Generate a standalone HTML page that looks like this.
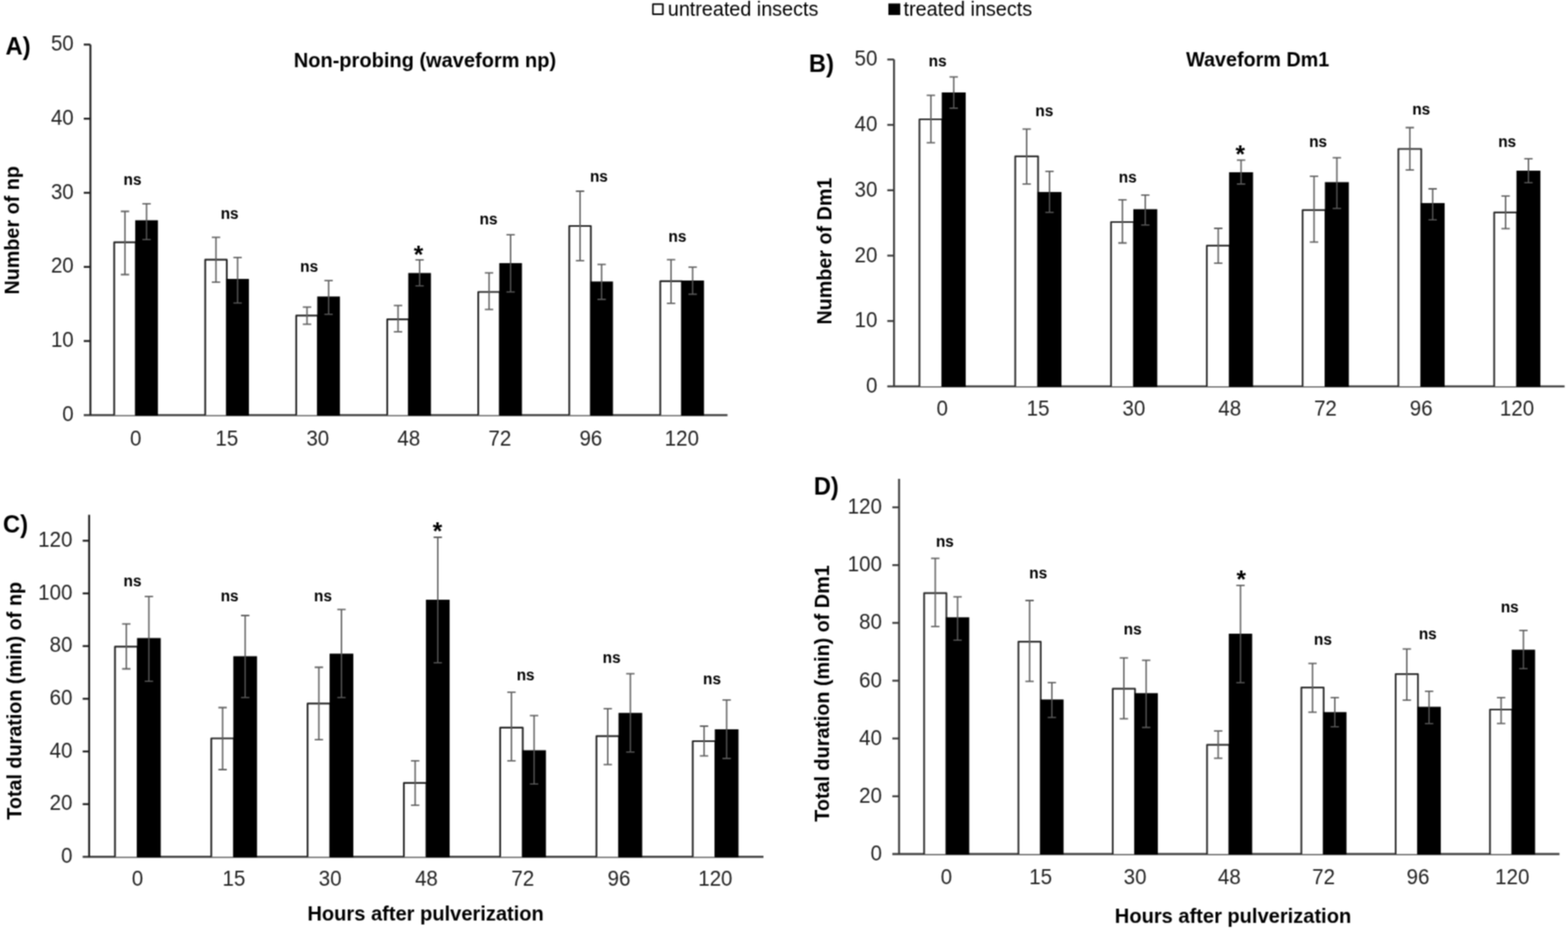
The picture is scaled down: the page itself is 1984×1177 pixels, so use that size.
<!DOCTYPE html>
<html><head><meta charset="utf-8"><title>EPG waveform bar charts</title>
<style>
html,body{margin:0;padding:0;background:#fff;}
body{width:1984px;height:1177px;overflow:hidden;}
svg{display:block;}
text{font-family:'Liberation Sans', Arial, sans-serif;}
.t{font-size:26px;fill:#232323;}
.ns{font-size:19.5px;font-weight:bold;fill:#000;}
.st{font-size:31px;font-weight:bold;fill:#000;}
.ti{font-size:25px;font-weight:bold;fill:#000;}
.le{font-size:30px;font-weight:bold;fill:#000;}
.lg{font-size:25px;fill:#000;}
</style></head>
<body>
<svg width="1984" height="1177" viewBox="0 0 1984 1177">
<defs><filter id="soft" x="0" y="0" width="1" height="1" color-interpolation-filters="sRGB"><feConvolveMatrix order="3" kernelMatrix="1 2 1 2 4 2 1 2 1" divisor="16" edgeMode="duplicate"/></filter></defs>
<g filter="url(#soft)">
<rect width="1984" height="1177" fill="#fff"/>
<g id="legend">
<rect x="826.2" y="5.3" width="12.5" height="12.8" fill="#fff" stroke="#000" stroke-width="2" stroke-linejoin="round"/>
<text x="845" y="19.6" class="lg">untreated insects</text>
<rect x="1124.1" y="4.4" width="15" height="14.6" fill="#000"/>
<text x="1143.3" y="19.6" class="lg">treated insects</text>
</g>
<g id="panelA"><path d="M106 525.4H920.5" stroke="#4c4c4c" stroke-width="2.6"/>
<rect x="144.5" y="306.6" width="27.3" height="218.8" fill="#fff"/>
<path d="M144.5 525.4V306.6H171.8V525.4" fill="none" stroke="#202020" stroke-width="2.2" stroke-linejoin="round"/>
<path d="M171.8 525.4V279.5H199.1V525.4Z" fill="#000" stroke="#000" stroke-width="1.4"/>
<rect x="259.66" y="328.7" width="27.3" height="196.7" fill="#fff"/>
<path d="M259.66 525.4V328.7H286.96V525.4" fill="none" stroke="#202020" stroke-width="2.2" stroke-linejoin="round"/>
<path d="M286.96 525.4V353.8H314.26V525.4Z" fill="#000" stroke="#000" stroke-width="1.4"/>
<rect x="374.82" y="399.4" width="27.3" height="126" fill="#fff"/>
<path d="M374.82 525.4V399.4H402.12V525.4" fill="none" stroke="#202020" stroke-width="2.2" stroke-linejoin="round"/>
<path d="M402.12 525.4V376H429.42V525.4Z" fill="#000" stroke="#000" stroke-width="1.4"/>
<rect x="489.98" y="404.2" width="27.3" height="121.2" fill="#fff"/>
<path d="M489.98 525.4V404.2H517.28V525.4" fill="none" stroke="#202020" stroke-width="2.2" stroke-linejoin="round"/>
<path d="M517.28 525.4V346.1H544.58V525.4Z" fill="#000" stroke="#000" stroke-width="1.4"/>
<rect x="605.14" y="369.5" width="27.3" height="155.9" fill="#fff"/>
<path d="M605.14 525.4V369.5H632.44V525.4" fill="none" stroke="#202020" stroke-width="2.2" stroke-linejoin="round"/>
<path d="M632.44 525.4V333.6H659.74V525.4Z" fill="#000" stroke="#000" stroke-width="1.4"/>
<rect x="720.3" y="286" width="27.3" height="239.4" fill="#fff"/>
<path d="M720.3 525.4V286H747.6V525.4" fill="none" stroke="#202020" stroke-width="2.2" stroke-linejoin="round"/>
<path d="M747.6 525.4V357H774.9V525.4Z" fill="#000" stroke="#000" stroke-width="1.4"/>
<rect x="835.46" y="355.9" width="27.3" height="169.5" fill="#fff"/>
<path d="M835.46 525.4V355.9H862.76V525.4" fill="none" stroke="#202020" stroke-width="2.2" stroke-linejoin="round"/>
<path d="M862.76 525.4V355.6H890.06V525.4Z" fill="#000" stroke="#000" stroke-width="1.4"/>
<path d="M158.15 267.5V347.5M152.85 267.5H163.45M152.85 347.5H163.45" stroke="#5f5f5f" stroke-width="1.8" fill="none"/>
<path d="M185.45 257.8V279.5M180.15 257.8H190.75" stroke="#5f5f5f" stroke-width="1.8" fill="none"/>
<path d="M185.45 279.5V303.3M180.15 303.3H190.75" stroke="#5c5c5c" stroke-width="1.6" fill="none"/>
<path d="M273.31 300.3V357.2M268.01 300.3H278.61M268.01 357.2H278.61" stroke="#5f5f5f" stroke-width="1.8" fill="none"/>
<path d="M300.61 325.8V353.8M295.31 325.8H305.91" stroke="#5f5f5f" stroke-width="1.8" fill="none"/>
<path d="M300.61 353.8V383.5M295.31 383.5H305.91" stroke="#5c5c5c" stroke-width="1.6" fill="none"/>
<path d="M388.47 388.7V410.4M383.17 388.7H393.77M383.17 410.4H393.77" stroke="#5f5f5f" stroke-width="1.8" fill="none"/>
<path d="M415.77 355.2V376M410.47 355.2H421.07" stroke="#5f5f5f" stroke-width="1.8" fill="none"/>
<path d="M415.77 376V397.8M410.47 397.8H421.07" stroke="#5c5c5c" stroke-width="1.6" fill="none"/>
<path d="M503.63 386.7V419.9M498.33 386.7H508.93M498.33 419.9H508.93" stroke="#5f5f5f" stroke-width="1.8" fill="none"/>
<path d="M530.93 328.9V346.1M525.63 328.9H536.23" stroke="#5f5f5f" stroke-width="1.8" fill="none"/>
<path d="M530.93 346.1V361.8M525.63 361.8H536.23" stroke="#5c5c5c" stroke-width="1.6" fill="none"/>
<path d="M618.79 345.4V391.6M613.49 345.4H624.09M613.49 391.6H624.09" stroke="#5f5f5f" stroke-width="1.8" fill="none"/>
<path d="M646.09 297.2V333.6M640.79 297.2H651.39" stroke="#5f5f5f" stroke-width="1.8" fill="none"/>
<path d="M646.09 333.6V369.5M640.79 369.5H651.39" stroke="#5c5c5c" stroke-width="1.6" fill="none"/>
<path d="M733.95 242V329.9M728.65 242H739.25M728.65 329.9H739.25" stroke="#5f5f5f" stroke-width="1.8" fill="none"/>
<path d="M761.25 334.6V357M755.95 334.6H766.55" stroke="#5f5f5f" stroke-width="1.8" fill="none"/>
<path d="M761.25 357V378.9M755.95 378.9H766.55" stroke="#5c5c5c" stroke-width="1.6" fill="none"/>
<path d="M849.11 328.7V383.8M843.81 328.7H854.41M843.81 383.8H854.41" stroke="#5f5f5f" stroke-width="1.8" fill="none"/>
<path d="M876.41 338.1V355.6M871.11 338.1H881.71" stroke="#5f5f5f" stroke-width="1.8" fill="none"/>
<path d="M876.41 355.6V372.4M871.11 372.4H881.71" stroke="#5c5c5c" stroke-width="1.6" fill="none"/>
<path d="M114.4 56.4V525.4" stroke="#1e1e1e" stroke-width="2.4"/>
<path d="M106 431.6H114.4" stroke="#1e1e1e" stroke-width="2.4"/>
<path d="M106 337.8H114.4" stroke="#1e1e1e" stroke-width="2.4"/>
<path d="M106 244H114.4" stroke="#1e1e1e" stroke-width="2.4"/>
<path d="M106 150.2H114.4" stroke="#1e1e1e" stroke-width="2.4"/>
<path d="M106 56.4H114.4" stroke="#1e1e1e" stroke-width="2.4"/>
<text transform="translate(93.3 533.05) scale(1 1.04)" text-anchor="end" class="t">0</text>
<text transform="translate(93.3 439.25) scale(1 1.04)" text-anchor="end" class="t">10</text>
<text transform="translate(93.3 345.45) scale(1 1.04)" text-anchor="end" class="t">20</text>
<text transform="translate(93.3 251.65) scale(1 1.04)" text-anchor="end" class="t">30</text>
<text transform="translate(93.3 157.85) scale(1 1.04)" text-anchor="end" class="t">40</text>
<text transform="translate(93.3 64.05) scale(1 1.04)" text-anchor="end" class="t">50</text>
<text transform="translate(171.8 564) scale(1 1.04)" text-anchor="middle" class="t">0</text>
<text transform="translate(286.96 564) scale(1 1.04)" text-anchor="middle" class="t">15</text>
<text transform="translate(402.12 564) scale(1 1.04)" text-anchor="middle" class="t">30</text>
<text transform="translate(517.28 564) scale(1 1.04)" text-anchor="middle" class="t">48</text>
<text transform="translate(632.44 564) scale(1 1.04)" text-anchor="middle" class="t">72</text>
<text transform="translate(747.6 564) scale(1 1.04)" text-anchor="middle" class="t">96</text>
<text transform="translate(862.76 564) scale(1 1.04)" text-anchor="middle" class="t">120</text>
<text x="167.75" y="233.5" text-anchor="middle" class="ns">ns</text>
<text x="290.6" y="277.3" text-anchor="middle" class="ns">ns</text>
<text x="391.25" y="343.5" text-anchor="middle" class="ns">ns</text>
<text x="529.55" y="333.3" text-anchor="middle" class="st">*</text>
<text x="618.15" y="283.6" text-anchor="middle" class="ns">ns</text>
<text x="757.8" y="230.3" text-anchor="middle" class="ns">ns</text>
<text x="857.2" y="306" text-anchor="middle" class="ns">ns</text>
<text x="371.7" y="84.9" class="ti" style="font-size:25.33px">Non-probing (waveform np)</text>
<text transform="translate(24.2 291.5) rotate(-90)" x="0" y="0" text-anchor="middle" class="ti">Number of np</text>
<text transform="translate(7 69.3) scale(1 1.03)" class="le">A)</text></g>
<g id="panelB"><path d="M1122.7 489H1979.7" stroke="#3e3e3e" stroke-width="2.6"/>
<rect x="1163.4" y="151" width="28.9" height="338" fill="#fff"/>
<path d="M1163.4 489V151H1192.3V489" fill="none" stroke="#2a2a2a" stroke-width="2.2" stroke-linejoin="round"/>
<path d="M1192.3 489V117.8H1221.2V489Z" fill="#000" stroke="#000" stroke-width="1.4"/>
<rect x="1284.6" y="197.8" width="28.9" height="291.2" fill="#fff"/>
<path d="M1284.6 489V197.8H1313.5V489" fill="none" stroke="#2a2a2a" stroke-width="2.2" stroke-linejoin="round"/>
<path d="M1313.5 489V243.6H1342.4V489Z" fill="#000" stroke="#000" stroke-width="1.4"/>
<rect x="1405.8" y="281" width="28.9" height="208" fill="#fff"/>
<path d="M1405.8 489V281H1434.7V489" fill="none" stroke="#2a2a2a" stroke-width="2.2" stroke-linejoin="round"/>
<path d="M1434.7 489V265.5H1463.6V489Z" fill="#000" stroke="#000" stroke-width="1.4"/>
<rect x="1527" y="310.9" width="28.9" height="178.1" fill="#fff"/>
<path d="M1527 489V310.9H1555.9V489" fill="none" stroke="#2a2a2a" stroke-width="2.2" stroke-linejoin="round"/>
<path d="M1555.9 489V218.8H1584.8V489Z" fill="#000" stroke="#000" stroke-width="1.4"/>
<rect x="1648.2" y="265.9" width="28.9" height="223.1" fill="#fff"/>
<path d="M1648.2 489V265.9H1677.1V489" fill="none" stroke="#2a2a2a" stroke-width="2.2" stroke-linejoin="round"/>
<path d="M1677.1 489V231.2H1706V489Z" fill="#000" stroke="#000" stroke-width="1.4"/>
<rect x="1769.4" y="188.5" width="28.9" height="300.5" fill="#fff"/>
<path d="M1769.4 489V188.5H1798.3V489" fill="none" stroke="#2a2a2a" stroke-width="2.2" stroke-linejoin="round"/>
<path d="M1798.3 489V257.7H1827.2V489Z" fill="#000" stroke="#000" stroke-width="1.4"/>
<rect x="1890.6" y="268.9" width="28.9" height="220.1" fill="#fff"/>
<path d="M1890.6 489V268.9H1919.5V489" fill="none" stroke="#2a2a2a" stroke-width="2.2" stroke-linejoin="round"/>
<path d="M1919.5 489V216.7H1948.4V489Z" fill="#000" stroke="#000" stroke-width="1.4"/>
<path d="M1177.85 120.7V180.7M1172.55 120.7H1183.15M1172.55 180.7H1183.15" stroke="#5f5f5f" stroke-width="1.8" fill="none"/>
<path d="M1206.75 97.4V117.8M1201.45 97.4H1212.05" stroke="#5f5f5f" stroke-width="1.8" fill="none"/>
<path d="M1206.75 117.8V136.9M1201.45 136.9H1212.05" stroke="#5c5c5c" stroke-width="1.6" fill="none"/>
<path d="M1299.05 163.3V232.8M1293.75 163.3H1304.35M1293.75 232.8H1304.35" stroke="#5f5f5f" stroke-width="1.8" fill="none"/>
<path d="M1327.95 216.9V243.6M1322.65 216.9H1333.25" stroke="#5f5f5f" stroke-width="1.8" fill="none"/>
<path d="M1327.95 243.6V268.8M1322.65 268.8H1333.25" stroke="#5c5c5c" stroke-width="1.6" fill="none"/>
<path d="M1420.25 252.9V307.5M1414.95 252.9H1425.55M1414.95 307.5H1425.55" stroke="#5f5f5f" stroke-width="1.8" fill="none"/>
<path d="M1449.15 246.8V265.5M1443.85 246.8H1454.45" stroke="#5f5f5f" stroke-width="1.8" fill="none"/>
<path d="M1449.15 265.5V284.7M1443.85 284.7H1454.45" stroke="#5c5c5c" stroke-width="1.6" fill="none"/>
<path d="M1541.45 289V333.1M1536.15 289H1546.75M1536.15 333.1H1546.75" stroke="#5f5f5f" stroke-width="1.8" fill="none"/>
<path d="M1570.35 202.7V218.8M1565.05 202.7H1575.65" stroke="#5f5f5f" stroke-width="1.8" fill="none"/>
<path d="M1570.35 218.8V232.9M1565.05 232.9H1575.65" stroke="#5c5c5c" stroke-width="1.6" fill="none"/>
<path d="M1662.65 223.1V306.3M1657.35 223.1H1667.95M1657.35 306.3H1667.95" stroke="#5f5f5f" stroke-width="1.8" fill="none"/>
<path d="M1691.55 199.6V231.2M1686.25 199.6H1696.85" stroke="#5f5f5f" stroke-width="1.8" fill="none"/>
<path d="M1691.55 231.2V263.8M1686.25 263.8H1696.85" stroke="#5c5c5c" stroke-width="1.6" fill="none"/>
<path d="M1783.85 161.5V215.2M1778.55 161.5H1789.15M1778.55 215.2H1789.15" stroke="#5f5f5f" stroke-width="1.8" fill="none"/>
<path d="M1812.75 239V257.7M1807.45 239H1818.05" stroke="#5f5f5f" stroke-width="1.8" fill="none"/>
<path d="M1812.75 257.7V278.3M1807.45 278.3H1818.05" stroke="#5c5c5c" stroke-width="1.6" fill="none"/>
<path d="M1905.05 248.1V289.3M1899.75 248.1H1910.35M1899.75 289.3H1910.35" stroke="#5f5f5f" stroke-width="1.8" fill="none"/>
<path d="M1933.95 200.9V216.7M1928.65 200.9H1939.25" stroke="#5f5f5f" stroke-width="1.8" fill="none"/>
<path d="M1933.95 216.7V231.3M1928.65 231.3H1939.25" stroke="#5c5c5c" stroke-width="1.6" fill="none"/>
<path d="M1131.2 75.3V489" stroke="#3a3a3a" stroke-width="2.4"/>
<path d="M1122.7 406.26H1131.2" stroke="#3a3a3a" stroke-width="2.4"/>
<path d="M1122.7 323.52H1131.2" stroke="#3a3a3a" stroke-width="2.4"/>
<path d="M1122.7 240.78H1131.2" stroke="#3a3a3a" stroke-width="2.4"/>
<path d="M1122.7 158.04H1131.2" stroke="#3a3a3a" stroke-width="2.4"/>
<path d="M1122.7 75.3H1131.2" stroke="#3a3a3a" stroke-width="2.4"/>
<text transform="translate(1110.2 497.15) scale(1 1.04)" text-anchor="end" class="t">0</text>
<text transform="translate(1110.2 414.41) scale(1 1.04)" text-anchor="end" class="t">10</text>
<text transform="translate(1110.2 331.67) scale(1 1.04)" text-anchor="end" class="t">20</text>
<text transform="translate(1110.2 248.93) scale(1 1.04)" text-anchor="end" class="t">30</text>
<text transform="translate(1110.2 166.19) scale(1 1.04)" text-anchor="end" class="t">40</text>
<text transform="translate(1110.2 83.45) scale(1 1.04)" text-anchor="end" class="t">50</text>
<text transform="translate(1192.3 526) scale(1 1.04)" text-anchor="middle" class="t">0</text>
<text transform="translate(1313.5 526) scale(1 1.04)" text-anchor="middle" class="t">15</text>
<text transform="translate(1434.7 526) scale(1 1.04)" text-anchor="middle" class="t">30</text>
<text transform="translate(1555.9 526) scale(1 1.04)" text-anchor="middle" class="t">48</text>
<text transform="translate(1677.1 526) scale(1 1.04)" text-anchor="middle" class="t">72</text>
<text transform="translate(1798.3 526) scale(1 1.04)" text-anchor="middle" class="t">96</text>
<text transform="translate(1919.5 526) scale(1 1.04)" text-anchor="middle" class="t">120</text>
<text x="1186.4" y="83.8" text-anchor="middle" class="ns">ns</text>
<text x="1321.4" y="146.5" text-anchor="middle" class="ns">ns</text>
<text x="1426.95" y="230.5" text-anchor="middle" class="ns">ns</text>
<text x="1569.3" y="205.5" text-anchor="middle" class="st">*</text>
<text x="1667.85" y="186.2" text-anchor="middle" class="ns">ns</text>
<text x="1798.3" y="145.4" text-anchor="middle" class="ns">ns</text>
<text x="1907.1" y="186" text-anchor="middle" class="ns">ns</text>
<text x="1500.8" y="84" class="ti" style="font-size:25px">Waveform Dm1</text>
<text transform="translate(1052.3 317.8) rotate(-90)" x="0" y="0" text-anchor="middle" class="ti">Number of Dm1</text>
<text transform="translate(1023.5 90.5) scale(1 1.03)" class="le">B)</text></g>
<g id="panelC"><path d="M104.6 1084.4H966" stroke="#464646" stroke-width="2.6"/>
<rect x="145.5" y="818.3" width="28.6" height="266.1" fill="#fff"/>
<path d="M145.5 1084.4V818.3H174.1V1084.4" fill="none" stroke="#202020" stroke-width="2.2" stroke-linejoin="round"/>
<path d="M174.1 1084.4V808.3H202.7V1084.4Z" fill="#000" stroke="#000" stroke-width="1.4"/>
<rect x="267.34" y="934.5" width="28.6" height="149.9" fill="#fff"/>
<path d="M267.34 1084.4V934.5H295.94V1084.4" fill="none" stroke="#202020" stroke-width="2.2" stroke-linejoin="round"/>
<path d="M295.94 1084.4V831.2H324.54V1084.4Z" fill="#000" stroke="#000" stroke-width="1.4"/>
<rect x="389.18" y="890.4" width="28.6" height="194" fill="#fff"/>
<path d="M389.18 1084.4V890.4H417.78V1084.4" fill="none" stroke="#202020" stroke-width="2.2" stroke-linejoin="round"/>
<path d="M417.78 1084.4V827.9H446.38V1084.4Z" fill="#000" stroke="#000" stroke-width="1.4"/>
<rect x="511.02" y="990.8" width="28.6" height="93.6" fill="#fff"/>
<path d="M511.02 1084.4V990.8H539.62V1084.4" fill="none" stroke="#202020" stroke-width="2.2" stroke-linejoin="round"/>
<path d="M539.62 1084.4V759.6H568.22V1084.4Z" fill="#000" stroke="#000" stroke-width="1.4"/>
<rect x="632.86" y="920.9" width="28.6" height="163.5" fill="#fff"/>
<path d="M632.86 1084.4V920.9H661.46V1084.4" fill="none" stroke="#202020" stroke-width="2.2" stroke-linejoin="round"/>
<path d="M661.46 1084.4V950.3H690.06V1084.4Z" fill="#000" stroke="#000" stroke-width="1.4"/>
<rect x="754.7" y="931.6" width="28.6" height="152.8" fill="#fff"/>
<path d="M754.7 1084.4V931.6H783.3V1084.4" fill="none" stroke="#202020" stroke-width="2.2" stroke-linejoin="round"/>
<path d="M783.3 1084.4V903H811.9V1084.4Z" fill="#000" stroke="#000" stroke-width="1.4"/>
<rect x="876.54" y="938" width="28.6" height="146.4" fill="#fff"/>
<path d="M876.54 1084.4V938H905.14V1084.4" fill="none" stroke="#202020" stroke-width="2.2" stroke-linejoin="round"/>
<path d="M905.14 1084.4V923.7H933.74V1084.4Z" fill="#000" stroke="#000" stroke-width="1.4"/>
<path d="M159.8 789.7V846.5M154.5 789.7H165.1M154.5 846.5H165.1" stroke="#5f5f5f" stroke-width="1.8" fill="none"/>
<path d="M188.4 754.8V808.3M183.1 754.8H193.7" stroke="#5f5f5f" stroke-width="1.8" fill="none"/>
<path d="M188.4 808.3V862.3M183.1 862.3H193.7" stroke="#5c5c5c" stroke-width="1.6" fill="none"/>
<path d="M281.64 895.5V974M276.34 895.5H286.94M276.34 974H286.94" stroke="#5f5f5f" stroke-width="1.8" fill="none"/>
<path d="M310.24 779V831.2M304.94 779H315.54" stroke="#5f5f5f" stroke-width="1.8" fill="none"/>
<path d="M310.24 831.2V882.7M304.94 882.7H315.54" stroke="#5c5c5c" stroke-width="1.6" fill="none"/>
<path d="M403.48 844.5V936.2M398.18 844.5H408.78M398.18 936.2H408.78" stroke="#5f5f5f" stroke-width="1.8" fill="none"/>
<path d="M432.08 771.4V827.9M426.78 771.4H437.38" stroke="#5f5f5f" stroke-width="1.8" fill="none"/>
<path d="M432.08 827.9V882.7M426.78 882.7H437.38" stroke="#5c5c5c" stroke-width="1.6" fill="none"/>
<path d="M525.32 962.9V1019.1M520.02 962.9H530.62M520.02 1019.1H530.62" stroke="#5f5f5f" stroke-width="1.8" fill="none"/>
<path d="M553.92 680V759.6M548.62 680H559.22" stroke="#5f5f5f" stroke-width="1.8" fill="none"/>
<path d="M553.92 759.6V838.7M548.62 838.7H559.22" stroke="#5c5c5c" stroke-width="1.6" fill="none"/>
<path d="M647.16 876.2V962.9M641.86 876.2H652.46M641.86 962.9H652.46" stroke="#5f5f5f" stroke-width="1.8" fill="none"/>
<path d="M675.76 905.6V950.3M670.46 905.6H681.06" stroke="#5f5f5f" stroke-width="1.8" fill="none"/>
<path d="M675.76 950.3V992.3M670.46 992.3H681.06" stroke="#5c5c5c" stroke-width="1.6" fill="none"/>
<path d="M769 896.9V967.6M763.7 896.9H774.3M763.7 967.6H774.3" stroke="#5f5f5f" stroke-width="1.8" fill="none"/>
<path d="M797.6 852.7V903M792.3 852.7H802.9" stroke="#5f5f5f" stroke-width="1.8" fill="none"/>
<path d="M797.6 903V951.7M792.3 951.7H802.9" stroke="#5c5c5c" stroke-width="1.6" fill="none"/>
<path d="M890.84 919V956.6M885.54 919H896.14M885.54 956.6H896.14" stroke="#5f5f5f" stroke-width="1.8" fill="none"/>
<path d="M919.44 885.9V923.7M914.14 885.9H924.74" stroke="#5f5f5f" stroke-width="1.8" fill="none"/>
<path d="M919.44 923.7V959.9M914.14 959.9H924.74" stroke="#5c5c5c" stroke-width="1.6" fill="none"/>
<path d="M112.8 651.6V1084.4" stroke="#1e1e1e" stroke-width="2.4"/>
<path d="M104.6 1017.72H112.8" stroke="#1e1e1e" stroke-width="2.4"/>
<path d="M104.6 951.04H112.8" stroke="#1e1e1e" stroke-width="2.4"/>
<path d="M104.6 884.36H112.8" stroke="#1e1e1e" stroke-width="2.4"/>
<path d="M104.6 817.68H112.8" stroke="#1e1e1e" stroke-width="2.4"/>
<path d="M104.6 751H112.8" stroke="#1e1e1e" stroke-width="2.4"/>
<path d="M104.6 684.32H112.8" stroke="#1e1e1e" stroke-width="2.4"/>
<text transform="translate(91.6 1092.05) scale(1 1.04)" text-anchor="end" class="t">0</text>
<text transform="translate(91.6 1025.37) scale(1 1.04)" text-anchor="end" class="t">20</text>
<text transform="translate(91.6 958.69) scale(1 1.04)" text-anchor="end" class="t">40</text>
<text transform="translate(91.6 892.01) scale(1 1.04)" text-anchor="end" class="t">60</text>
<text transform="translate(91.6 825.33) scale(1 1.04)" text-anchor="end" class="t">80</text>
<text transform="translate(91.6 758.65) scale(1 1.04)" text-anchor="end" class="t">100</text>
<text transform="translate(91.6 691.97) scale(1 1.04)" text-anchor="end" class="t">120</text>
<text transform="translate(174.1 1121.4) scale(1 1.04)" text-anchor="middle" class="t">0</text>
<text transform="translate(295.94 1121.4) scale(1 1.04)" text-anchor="middle" class="t">15</text>
<text transform="translate(417.78 1121.4) scale(1 1.04)" text-anchor="middle" class="t">30</text>
<text transform="translate(539.62 1121.4) scale(1 1.04)" text-anchor="middle" class="t">48</text>
<text transform="translate(661.46 1121.4) scale(1 1.04)" text-anchor="middle" class="t">72</text>
<text transform="translate(783.3 1121.4) scale(1 1.04)" text-anchor="middle" class="t">96</text>
<text transform="translate(905.14 1121.4) scale(1 1.04)" text-anchor="middle" class="t">120</text>
<text x="167.7" y="742" text-anchor="middle" class="ns">ns</text>
<text x="290.55" y="761.2" text-anchor="middle" class="ns">ns</text>
<text x="408.65" y="761.2" text-anchor="middle" class="ns">ns</text>
<text x="553.45" y="683" text-anchor="middle" class="st">*</text>
<text x="665.1" y="860.5" text-anchor="middle" class="ns">ns</text>
<text x="773.95" y="839" text-anchor="middle" class="ns">ns</text>
<text x="901" y="866" text-anchor="middle" class="ns">ns</text>
<text x="389" y="1165.3" class="ti" style="font-size:25.4px">Hours after pulverization</text>
<text transform="translate(26.5 887) rotate(-90)" x="0" y="0" text-anchor="middle" class="ti">Total duration (min) of np</text>
<text transform="translate(3.8 674) scale(1 1.03)" class="le">C)</text></g>
<g id="panelD"><path d="M1129.1 1080.9H1973.2" stroke="#424242" stroke-width="2.6"/>
<rect x="1169.3" y="750.7" width="28.2" height="330.2" fill="#fff"/>
<path d="M1169.3 1080.9V750.7H1197.5V1080.9" fill="none" stroke="#2a2a2a" stroke-width="2.2" stroke-linejoin="round"/>
<path d="M1197.5 1080.9V781.9H1225.7V1080.9Z" fill="#000" stroke="#000" stroke-width="1.4"/>
<rect x="1288.63" y="812.1" width="28.2" height="268.8" fill="#fff"/>
<path d="M1288.63 1080.9V812.1H1316.83V1080.9" fill="none" stroke="#2a2a2a" stroke-width="2.2" stroke-linejoin="round"/>
<path d="M1316.83 1080.9V885.9H1345.03V1080.9Z" fill="#000" stroke="#000" stroke-width="1.4"/>
<rect x="1407.96" y="871.6" width="28.2" height="209.3" fill="#fff"/>
<path d="M1407.96 1080.9V871.6H1436.16V1080.9" fill="none" stroke="#2a2a2a" stroke-width="2.2" stroke-linejoin="round"/>
<path d="M1436.16 1080.9V878H1464.36V1080.9Z" fill="#000" stroke="#000" stroke-width="1.4"/>
<rect x="1527.29" y="942.7" width="28.2" height="138.2" fill="#fff"/>
<path d="M1527.29 1080.9V942.7H1555.49V1080.9" fill="none" stroke="#2a2a2a" stroke-width="2.2" stroke-linejoin="round"/>
<path d="M1555.49 1080.9V802.8H1583.69V1080.9Z" fill="#000" stroke="#000" stroke-width="1.4"/>
<rect x="1646.62" y="870.1" width="28.2" height="210.8" fill="#fff"/>
<path d="M1646.62 1080.9V870.1H1674.82V1080.9" fill="none" stroke="#2a2a2a" stroke-width="2.2" stroke-linejoin="round"/>
<path d="M1674.82 1080.9V901.9H1703.02V1080.9Z" fill="#000" stroke="#000" stroke-width="1.4"/>
<rect x="1765.95" y="853.1" width="28.2" height="227.8" fill="#fff"/>
<path d="M1765.95 1080.9V853.1H1794.15V1080.9" fill="none" stroke="#2a2a2a" stroke-width="2.2" stroke-linejoin="round"/>
<path d="M1794.15 1080.9V895.2H1822.35V1080.9Z" fill="#000" stroke="#000" stroke-width="1.4"/>
<rect x="1885.28" y="898" width="28.2" height="182.9" fill="#fff"/>
<path d="M1885.28 1080.9V898H1913.48V1080.9" fill="none" stroke="#2a2a2a" stroke-width="2.2" stroke-linejoin="round"/>
<path d="M1913.48 1080.9V822.9H1941.68V1080.9Z" fill="#000" stroke="#000" stroke-width="1.4"/>
<path d="M1183.4 706.6V792.9M1178.1 706.6H1188.7M1178.1 792.9H1188.7" stroke="#5f5f5f" stroke-width="1.8" fill="none"/>
<path d="M1211.6 755.3V781.9M1206.3 755.3H1216.9" stroke="#5f5f5f" stroke-width="1.8" fill="none"/>
<path d="M1211.6 781.9V810.2M1206.3 810.2H1216.9" stroke="#5c5c5c" stroke-width="1.6" fill="none"/>
<path d="M1302.73 760V862.4M1297.43 760H1308.03M1297.43 862.4H1308.03" stroke="#5f5f5f" stroke-width="1.8" fill="none"/>
<path d="M1330.93 863.8V885.9M1325.63 863.8H1336.23" stroke="#5f5f5f" stroke-width="1.8" fill="none"/>
<path d="M1330.93 885.9V908M1325.63 908H1336.23" stroke="#5c5c5c" stroke-width="1.6" fill="none"/>
<path d="M1422.06 832.6V909.6M1416.76 832.6H1427.36M1416.76 909.6H1427.36" stroke="#5f5f5f" stroke-width="1.8" fill="none"/>
<path d="M1450.26 835.6V878M1444.96 835.6H1455.56" stroke="#5f5f5f" stroke-width="1.8" fill="none"/>
<path d="M1450.26 878V920.6M1444.96 920.6H1455.56" stroke="#5c5c5c" stroke-width="1.6" fill="none"/>
<path d="M1541.39 925.1V959.6M1536.09 925.1H1546.69M1536.09 959.6H1546.69" stroke="#5f5f5f" stroke-width="1.8" fill="none"/>
<path d="M1569.59 740.8V802.8M1564.29 740.8H1574.89" stroke="#5f5f5f" stroke-width="1.8" fill="none"/>
<path d="M1569.59 802.8V864M1564.29 864H1574.89" stroke="#5c5c5c" stroke-width="1.6" fill="none"/>
<path d="M1660.72 839.7V901.4M1655.42 839.7H1666.02M1655.42 901.4H1666.02" stroke="#5f5f5f" stroke-width="1.8" fill="none"/>
<path d="M1688.92 882.8V901.9M1683.62 882.8H1694.22" stroke="#5f5f5f" stroke-width="1.8" fill="none"/>
<path d="M1688.92 901.9V919.8M1683.62 919.8H1694.22" stroke="#5c5c5c" stroke-width="1.6" fill="none"/>
<path d="M1780.05 821.3V886.1M1774.75 821.3H1785.35M1774.75 886.1H1785.35" stroke="#5f5f5f" stroke-width="1.8" fill="none"/>
<path d="M1808.25 874.8V895.2M1802.95 874.8H1813.55" stroke="#5f5f5f" stroke-width="1.8" fill="none"/>
<path d="M1808.25 895.2V915.8M1802.95 915.8H1813.55" stroke="#5c5c5c" stroke-width="1.6" fill="none"/>
<path d="M1899.38 882.8V915.6M1894.08 882.8H1904.68M1894.08 915.6H1904.68" stroke="#5f5f5f" stroke-width="1.8" fill="none"/>
<path d="M1927.58 797.9V822.9M1922.28 797.9H1932.88" stroke="#5f5f5f" stroke-width="1.8" fill="none"/>
<path d="M1927.58 822.9V846.3M1922.28 846.3H1932.88" stroke="#5c5c5c" stroke-width="1.6" fill="none"/>
<path d="M1137.6 606.1V1080.9" stroke="#3a3a3a" stroke-width="2.4"/>
<path d="M1129.1 1007.76H1137.6" stroke="#3a3a3a" stroke-width="2.4"/>
<path d="M1129.1 934.62H1137.6" stroke="#3a3a3a" stroke-width="2.4"/>
<path d="M1129.1 861.48H1137.6" stroke="#3a3a3a" stroke-width="2.4"/>
<path d="M1129.1 788.34H1137.6" stroke="#3a3a3a" stroke-width="2.4"/>
<path d="M1129.1 715.2H1137.6" stroke="#3a3a3a" stroke-width="2.4"/>
<path d="M1129.1 642.06H1137.6" stroke="#3a3a3a" stroke-width="2.4"/>
<text transform="translate(1115.9 1089.05) scale(1 1.04)" text-anchor="end" class="t">0</text>
<text transform="translate(1115.9 1015.91) scale(1 1.04)" text-anchor="end" class="t">20</text>
<text transform="translate(1115.9 942.77) scale(1 1.04)" text-anchor="end" class="t">40</text>
<text transform="translate(1115.9 869.63) scale(1 1.04)" text-anchor="end" class="t">60</text>
<text transform="translate(1115.9 796.49) scale(1 1.04)" text-anchor="end" class="t">80</text>
<text transform="translate(1115.9 723.35) scale(1 1.04)" text-anchor="end" class="t">100</text>
<text transform="translate(1115.9 650.21) scale(1 1.04)" text-anchor="end" class="t">120</text>
<text transform="translate(1197.5 1118.9) scale(1 1.04)" text-anchor="middle" class="t">0</text>
<text transform="translate(1316.83 1118.9) scale(1 1.04)" text-anchor="middle" class="t">15</text>
<text transform="translate(1436.16 1118.9) scale(1 1.04)" text-anchor="middle" class="t">30</text>
<text transform="translate(1555.49 1118.9) scale(1 1.04)" text-anchor="middle" class="t">48</text>
<text transform="translate(1674.82 1118.9) scale(1 1.04)" text-anchor="middle" class="t">72</text>
<text transform="translate(1794.15 1118.9) scale(1 1.04)" text-anchor="middle" class="t">96</text>
<text transform="translate(1913.48 1118.9) scale(1 1.04)" text-anchor="middle" class="t">120</text>
<text x="1195.6" y="691.8" text-anchor="middle" class="ns">ns</text>
<text x="1313.7" y="732.4" text-anchor="middle" class="ns">ns</text>
<text x="1433.25" y="803.3" text-anchor="middle" class="ns">ns</text>
<text x="1570.45" y="744.4" text-anchor="middle" class="st">*</text>
<text x="1674" y="816" text-anchor="middle" class="ns">ns</text>
<text x="1806.55" y="809.4" text-anchor="middle" class="ns">ns</text>
<text x="1910.35" y="774.5" text-anchor="middle" class="ns">ns</text>
<text x="1410.6" y="1168.3" class="ti" style="font-size:25.4px">Hours after pulverization</text>
<text transform="translate(1048.9 877.7) rotate(-90)" x="0" y="0" text-anchor="middle" class="ti">Total duration (min) of Dm1</text>
<text transform="translate(1029.7 625.7) scale(1 1.03)" class="le">D)</text></g>
</g>
</svg>
</body></html>
